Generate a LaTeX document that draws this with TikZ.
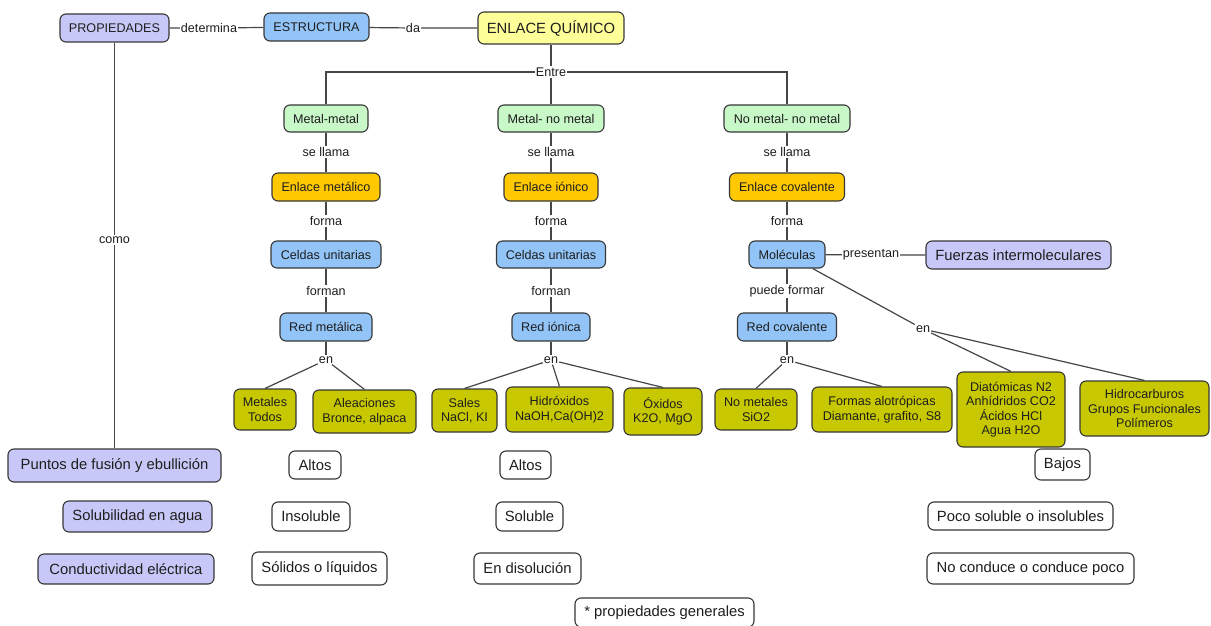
\documentclass[tikz,border=0pt]{standalone}
\usepackage{fontspec}
\setmainfont{Liberation Sans}
\newcommand{\normsize}{\fontsize{12.6}{14.5}\selectfont}
\newcommand{\bigsize}{\fontsize{14.8}{17}\selectfont}
\definecolor{lavfill}{RGB}{200,200,248}
\definecolor{blufill}{RGB}{146,196,247}
\definecolor{grnfill}{RGB}{200,247,200}
\definecolor{orgfill}{RGB}{255,200,0}
\definecolor{olvfill}{RGB}{200,200,0}
\definecolor{ylwfill}{RGB}{255,255,153}
\definecolor{edgecol}{RGB}{55,55,55}
\definecolor{linecol}{RGB}{70,70,70}
\definecolor{txtcol}{RGB}{30,30,30}
\tikzset{
  box/.style={draw=edgecol, line width=1.1pt, rounded corners=6pt, inner sep=0pt,
    align=center, font=\normsize, text=txtcol},
  lav/.style={box, fill=lavfill},
  blu/.style={box, fill=blufill},
  grn/.style={box, fill=grnfill},
  org/.style={box, fill=orgfill},
  olv/.style={box, fill=olvfill},
  ylw/.style={box, fill=ylwfill},
  wht/.style={box, fill=white},
  lbl/.style={inner sep=1pt, font=\normsize, text=txtcol},
  conn/.style={draw=linecol, line width=1.2pt},
}
\begin{document}
\begin{tikzpicture}[x=1pt, y=-1pt]
\useasboundingbox[fill=white] (0,0) rectangle (1211,626);

% top row
\node[lav, minimum width=109pt, minimum height=28pt] (prop) at (114.5,28) {PROPIEDADES};
\node[blu, minimum width=105pt, minimum height=28pt] (estr) at (316.5,27) {ESTRUCTURA};
\node[ylw, minimum width=146pt, minimum height=32pt, font=\bigsize] (enl) at (551,28) {ENLACE QUÍMICO};
\node[lbl] (ldet) at (209,28) {determina};
\node[lbl] (lda) at (413,28) {da};
\node[lbl] (lentre) at (551,72) {Entre};

% column: metal-metal
\node[grn, minimum width=84pt, minimum height=27pt] (mm) at (326,118.5) {Metal-metal};
\node[org, minimum width=108pt, minimum height=28pt] (emet) at (326,187) {Enlace metálico};
\node[blu, minimum width=110pt, minimum height=27pt] (cel1) at (326,254.5) {Celdas unitarias};
\node[blu, minimum width=92pt, minimum height=28pt] (rmet) at (326,327) {Red metálica};
\node[lbl] (l1a) at (326,152) {se llama};
\node[lbl] (l1b) at (326,221) {forma};
\node[lbl] (l1c) at (326,291) {forman};
\node[lbl] (l1d) at (326,360) {en};

% column: metal - no metal
\node[grn, minimum width=106pt, minimum height=27pt] (mnm) at (551,118.5) {Metal- no metal};
\node[org, minimum width=94pt, minimum height=28pt] (eion) at (551,187) {Enlace iónico};
\node[blu, minimum width=109pt, minimum height=27pt] (cel2) at (551,254.5) {Celdas unitarias};
\node[blu, minimum width=78pt, minimum height=28pt] (rion) at (551,327) {Red iónica};
\node[lbl] (l2a) at (551,152) {se llama};
\node[lbl] (l2b) at (551,221) {forma};
\node[lbl] (l2c) at (551,291) {forman};
\node[lbl] (l2d) at (551,360) {en};

% column: no metal - no metal
\node[grn, minimum width=126pt, minimum height=27pt] (nmnm) at (787,118.5) {No metal- no metal};
\node[org, minimum width=115pt, minimum height=28pt] (ecov) at (787,187) {Enlace covalente};
\node[blu, minimum width=76pt, minimum height=27pt] (mol) at (787,254.5) {Moléculas};
\node[blu, minimum width=99pt, minimum height=28pt] (rcov) at (787,327) {Red covalente};
\node[lav, minimum width=185pt, minimum height=28pt, font=\bigsize] (fuer) at (1018.5,255) {Fuerzas intermoleculares};
\node[lbl] (l3a) at (787,152) {se llama};
\node[lbl] (l3b) at (787,221) {forma};
\node[lbl] (l3c) at (787,291) {puede formar};
\node[lbl] (l3d) at (787,360) {en};
\node[lbl] (lpres) at (871,255) {presentan};
\node[lbl] (lmen) at (923,329) {en};

% examples
\node[olv, minimum width=62pt, minimum height=41pt] (metales) at (265,409.5) {Metales\\Todos};
\node[olv, minimum width=103pt, minimum height=43pt] (alea) at (364.5,411.5) {Aleaciones\\Bronce, alpaca};
\node[olv, minimum width=65pt, minimum height=43pt] (sales) at (464.5,410.5) {Sales\\NaCl, KI};
\node[olv, minimum width=107pt, minimum height=45pt] (hidrox) at (559.5,409.5) {Hidróxidos\\NaOH,Ca(OH)2};
\node[olv, minimum width=78pt, minimum height=47pt] (oxid) at (663,411.5) {Óxidos\\K2O, MgO};
\node[olv, minimum width=82pt, minimum height=41pt] (nomet) at (756,409.5) {No metales\\SiO2};
\node[olv, minimum width=140pt, minimum height=45pt] (formas) at (882,409.5) {Formas alotrópicas\\Diamante, grafito, S8};
\node[olv, minimum width=108pt, minimum height=75pt] (diat) at (1011,409.5) {Diatómicas N2\\Anhídridos CO2\\Ácidos HCl\\Agua H2O};
\node[olv, minimum width=129pt, minimum height=55pt] (hidroc) at (1144.5,408.5) {Hidrocarburos\\Grupos Funcionales\\Polímeros};

% properties
\node[lav, minimum width=213pt, minimum height=33pt, font=\bigsize] (pfus) at (114.5,465.5) {Puntos de fusión y ebullición};
\node[lav, minimum width=149pt, minimum height=31pt, font=\bigsize] (psol) at (137.5,516.5) {Solubilidad en agua};
\node[lav, minimum width=176pt, minimum height=30pt, font=\bigsize] (pcond) at (126,569) {Conductividad eléctrica};
\node[lbl] (lcomo) at (114.5,240) {como};

\node[wht, minimum width=52pt, minimum height=28pt, font=\bigsize] (alt1) at (315,465) {Altos};
\node[wht, minimum width=78pt, minimum height=29pt, font=\bigsize] (ins1) at (311,516.5) {Insoluble};
\node[wht, minimum width=135pt, minimum height=33pt, font=\bigsize] (sol1) at (319.5,568.5) {Sólidos o líquidos};
\node[wht, minimum width=51pt, minimum height=28pt, font=\bigsize] (alt2) at (525.5,465) {Altos};
\node[wht, minimum width=67pt, minimum height=29pt, font=\bigsize] (solb2) at (529.5,516.5) {Soluble};
\node[wht, minimum width=107pt, minimum height=31pt, font=\bigsize] (dis2) at (527.5,568.5) {En disolución};
\node[wht, minimum width=55pt, minimum height=31pt, font=\bigsize] (baj3) at (1062.5,464.5) {Bajos};
\node[wht, minimum width=185pt, minimum height=28pt, font=\bigsize] (poco3) at (1020.5,516) {Poco soluble o insolubles};
\node[wht, minimum width=207pt, minimum height=31pt, font=\bigsize] (nocond3) at (1030.5,568.5) {No conduce o conduce poco};
\node[wht, minimum width=179pt, minimum height=29pt, font=\bigsize] (nota) at (664.5,612.5) {* propiedades generales};

% connectors
\path[conn] (prop) -- (ldet) -- (estr);
\path[conn] (estr) -- (lda) -- (enl);
\path[conn] (enl) -- (lentre);
\path[conn] (lentre) -| (mm);
\path[conn] (lentre) -- (mnm);
\path[conn] (lentre) -| (nmnm);
\path[conn] (prop) -- (lcomo) -- (pfus);

\path[conn] (mm) -- (l1a) -- (emet) -- (l1b) -- (cel1) -- (l1c) -- (rmet) -- (l1d);
\path[conn] (mnm) -- (l2a) -- (eion) -- (l2b) -- (cel2) -- (l2c) -- (rion) -- (l2d);
\path[conn] (nmnm) -- (l3a) -- (ecov) -- (l3b) -- (mol) -- (l3c) -- (rcov) -- (l3d);
\path[conn] (mol) -- (lpres) -- (fuer);
\path[conn] (mol) -- (lmen);

\path[conn] (l1d) -- (metales.north);
\path[conn] (l1d) -- (alea.north);
\path[conn] (l2d) -- (sales.north);
\path[conn] (l2d) -- (hidrox.north);
\path[conn] (l2d) -- (oxid.north);
\path[conn] (l3d) -- (nomet.north);
\path[conn] (l3d) -- (formas.north);
\path[conn] (lmen) -- (diat.north);
\path[conn] (lmen) -- (hidroc.north);
\end{tikzpicture}
\end{document}
